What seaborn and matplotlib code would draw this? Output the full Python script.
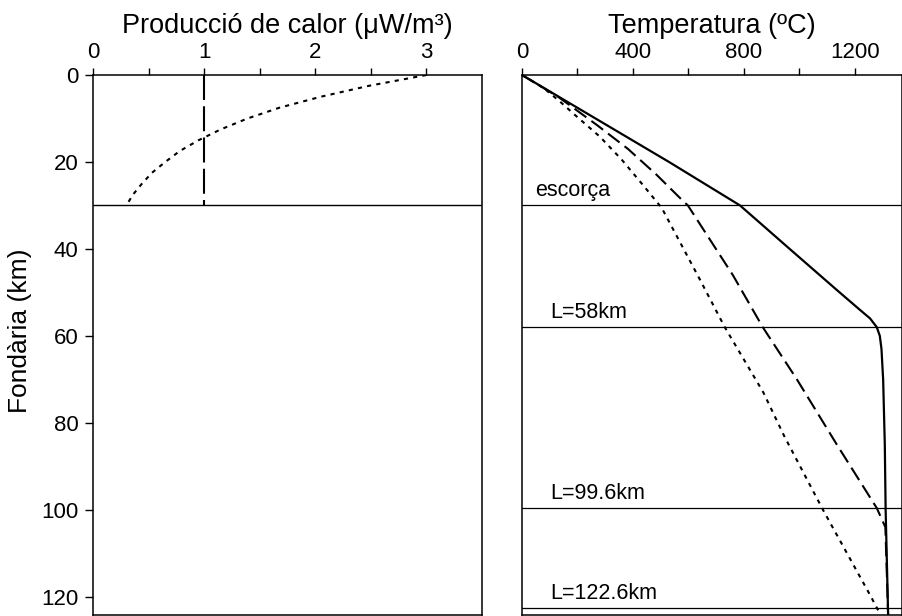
import pandas as pd
import matplotlib.pyplot as plt
import seaborn as sns

# produccio de calor (esquerra)
prof_exp = [0, 2.5, 5, 7.5, 10, 12.5, 15, 17.5, 20, 22.5, 25, 27.5, 30]
calor_exp = [3.0, 2.48, 2.05, 1.68, 1.39, 1.15, 0.95, 0.78, 0.65, 0.53, 0.44, 0.36, 0.30]
prof_const = [0, 30]
calor_const = [1.0, 1.0]

# geotermes (dreta)
prof_t1 = [0, 10, 20, 30, 40, 50, 54, 56, 58, 60, 63, 70, 85, 100, 124.2]
temp_t1 = [0, 265, 530, 786, 965, 1145, 1218, 1255, 1279, 1290, 1296, 1302, 1308, 1311, 1320]
prof_t2 = [0, 5, 11.5, 17, 23, 29.2, 30, 46, 58, 70, 85, 99.6, 104, 124.2]
temp_t2 = [0, 130, 270, 382, 486, 584, 598, 760, 868, 991, 1135, 1279, 1310, 1320]
prof_t3 = [0, 3, 6, 9.2, 14.2, 19.5, 25.3, 30.6, 47, 58, 73, 83, 100, 119.5, 124.2]
temp_t3 = [0, 78, 135, 191, 281, 360, 436, 504, 641, 731, 870, 945, 1085, 1254, 1293]

limits = [30, 58, 99.6, 122.6]
limit_labels = ['escorça', 'L=58km', 'L=99.6km', 'L=122.6km']

sns.set_theme(style="white")
plt.rcParams['font.family'] = ['Liberation Sans', 'DejaVu Sans']
plt.rcParams['text.color'] = 'black'
plt.rcParams['axes.labelcolor'] = 'black'

fig = plt.figure(figsize=(9.02, 6.16), dpi=100)
ax1 = fig.add_axes([93/902, 1/616, 389/902, 540/616])
ax2 = fig.add_axes([522/902, 1/616, 380/902, 540/616])

# panell esquerre
sns.lineplot(x=calor_exp, y=prof_exp, ax=ax1, orient='y', estimator=None, color='black',
             lw=1.5, linestyle=(0, (2, 2.5)))
sns.lineplot(x=calor_const, y=prof_const, ax=ax1, orient='y', estimator=None, color='black',
             lw=1.5, linestyle=(0, (12, 3)))
ax1.axhline(30, color='black', lw=1)

ax1.set_xlim(0, 3.5)
ax1.set_ylim(124.2, 0)
ax1.set_xticks([0, 1, 2, 3])
ax1.set_xticks([0.5, 1.5, 2.5], minor=True)
ax1.set_yticks([0, 20, 40, 60, 80, 100, 120])
ax1.xaxis.tick_top()
ax1.xaxis.set_label_position('top')
ax1.set_xlabel('Producció de calor (μW/m³)', fontsize=19.5, labelpad=6)
ax1.set_ylabel('Fondària (km)', fontsize=19)
ax1.yaxis.set_label_coords(-0.157, 0.526)
ax1.tick_params(axis='x', which='both', top=True, bottom=False, direction='out',
                length=5, width=1, pad=4, labelsize=16, colors='black')
ax1.tick_params(axis='y', left=True, direction='out', length=5.5, width=1, pad=5,
                labelsize=16, colors='black')

# panell dret
sns.lineplot(x=temp_t1, y=prof_t1, ax=ax2, orient='y', estimator=None, color='black', lw=1.6)
sns.lineplot(x=temp_t2, y=prof_t2, ax=ax2, orient='y', estimator=None, color='black',
             lw=1.5, linestyle=(0, (7, 3)))
sns.lineplot(x=temp_t3, y=prof_t3, ax=ax2, orient='y', estimator=None, color='black',
             lw=1.5, linestyle=(0, (2, 2.5)))
for z, lab in zip(limits, limit_labels):
    ax2.axhline(z, color='black', lw=0.9)
    xt = 47 if lab == 'escorça' else 101
    ax2.text(xt, z - 3.4, lab, fontsize=15.5, va='center', ha='left')

ax2.set_xlim(0, 1370)
ax2.set_ylim(124.2, 0)
ax2.set_xticks([0, 400, 800, 1200])
ax2.set_xticks([200, 600, 1000], minor=True)
ax2.xaxis.tick_top()
ax2.xaxis.set_label_position('top')
ax2.set_xlabel('Temperatura (ºC)', fontsize=19.5, labelpad=6)
ax2.set_ylabel('')
ax2.tick_params(axis='x', which='both', top=True, bottom=False, direction='out',
                length=5, width=1, pad=4, labelsize=16, colors='black')
ax2.tick_params(axis='y', left=False, labelleft=False)

for ax in (ax1, ax2):
    for s in ax.spines.values():
        s.set_color('black')
        s.set_linewidth(1.1)
    ax.grid(False)

fig.savefig('out.png', dpi=100)
